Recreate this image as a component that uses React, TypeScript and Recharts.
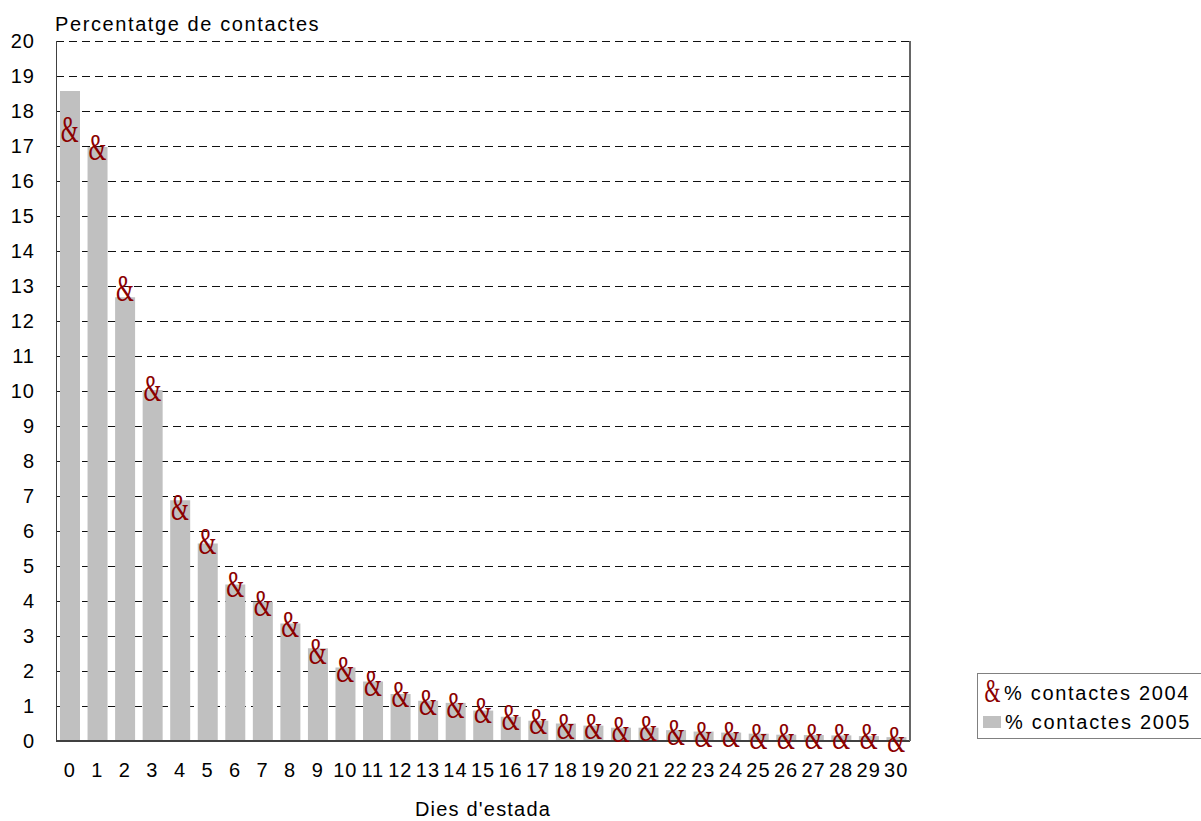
import React from 'react';
import { ComposedChart, Bar, Line, XAxis, YAxis, CartesianGrid, Legend } from 'recharts';

const dies = ['0','1','2','3','4','5','6','7','8','9','10','11','12','13','14','15','16','17','18','19','20','21','22','23','24','25','26','27','28','29','30'];
const contactes2005 = [18.57, 16.97, 12.68, 10.03, 6.88, 5.64, 4.47, 3.98, 3.36, 2.65, 2.1, 1.7, 1.34, 1.15, 1.09, 0.87, 0.69, 0.58, 0.5, 0.44, 0.38, 0.38, 0.31, 0.27, 0.24, 0.21, 0.18, 0.17, 0.16, 0.14, 0.11];
const contactes2004 = [17.46, 16.93, 12.9, 10.07, 6.65, 5.69, 4.46, 3.92, 3.31, 2.54, 2.02, 1.62, 1.32, 1.09, 1.0, 0.87, 0.65, 0.54, 0.41, 0.4, 0.32, 0.34, 0.24, 0.18, 0.18, 0.1, 0.1, 0.1, 0.1, 0.1, 0.02];
const yTicks = [0,1,2,3,4,5,6,7,8,9,10,11,12,13,14,15,16,17,18,19,20];

const seriesNames = { s2004: '% contactes 2004', s2005: '% contactes 2005' };
const titleText = 'Percentatge de contactes';
const xTitle = "Dies d'estada";

const data = dies.map((d, i) => ({ dia: d, c2005: contactes2005[i], c2004: contactes2004[i] }));

const FONT = '"Liberation Sans", Arial, sans-serif';
const MARK = '#8B0000';
const BAR = '#C0C0C0';

const Amp = (props: any) => {
  const { cx, cy, index } = props;
  if (cx == null || cy == null) return null;
  const sx = 0.62;
  return (
    <text
      key={`amp-${index}`}
      x={cx}
      y={cy + 12}
      textAnchor="middle"
      fontFamily='"Liberation Serif", "Times New Roman", serif'
      fontSize={37}
      fill={MARK}
      transform={`matrix(${sx} 0 0 1 ${cx * (1 - sx)} 0)`}
    >
      {'&'}
    </text>
  );
};

const LegendBox = () => (
  <div
    style={{
      border: '1px solid #808080',
      borderRight: 'none',
      width: 224,
      height: 66,
      boxSizing: 'border-box',
      fontFamily: FONT,
      fontSize: 20,
      letterSpacing: 1.7,
      color: '#000',
      position: 'relative',
    }}
  >
    <div style={{ position: 'absolute', left: 4, top: 6, height: 26, display: 'flex', alignItems: 'center', whiteSpace: 'nowrap' }}>
      <svg width={22} height={28} style={{ overflow: 'visible' }}>
        <text x={11} y={23} textAnchor="middle" fontFamily='"Liberation Serif", serif' fontSize={33} fill={MARK} transform="matrix(0.62 0 0 1 4.18 0)">{'&'}</text>
      </svg>
      <span>{seriesNames.s2004}</span>
    </div>
    <div style={{ position: 'absolute', left: 5, top: 35, height: 26, display: 'flex', alignItems: 'center', whiteSpace: 'nowrap' }}>
      <div style={{ width: 18, height: 12, background: BAR, marginRight: 4 }} />
      <span>{seriesNames.s2005}</span>
    </div>
  </div>
);

export default function App() {
  return (
    <div style={{ position: 'absolute', left: 0, top: 0, width: 1201, height: 821, fontFamily: FONT, background: '#fff', overflow: 'hidden' }}>
      <style>{`.recharts-cartesian-grid line { shape-rendering: crispEdges; } .recharts-cartesian-axis-line { shape-rendering: crispEdges; }`}</style>
      <ComposedChart
        width={1201}
        height={821}
        data={data}
        margin={{ top: 41, right: 290, bottom: 0, left: 0 }}
        barCategoryGap={4}
      >
        <CartesianGrid vertical={false} stroke="#111" strokeDasharray="8 5" />
        <XAxis
          dataKey="dia"
          interval={0}
          height={80}
          tickLine={false}
          tickSize={0}
          tickMargin={22}
          axisLine={{ stroke: '#404040', strokeWidth: 2 }}
          tick={{ fontSize: 20, fill: '#000', fontFamily: FONT, letterSpacing: 1 }}
          label={{ value: xTitle, position: 'insideBottom', offset: 5, fontSize: 20, fill: '#000', fontFamily: FONT, letterSpacing: 1.2 } as any}
        />
        <YAxis
          width={56}
          domain={[0, 20]}
          ticks={yTicks}
          interval={0}
          tickLine={false}
          tickSize={0}
          tickMargin={21}
          axisLine={{ stroke: '#404040' }}
          tick={{ fontSize: 20, fill: '#000', fontFamily: FONT, letterSpacing: 1 }}
          label={{
            content: (p: any) => {
              const vb = p.viewBox || { x: 0, y: 41, width: 56 };
              return (
                <text x={vb.x + vb.width - 1} y={vb.y - 10} fontSize={20} fill="#000" fontFamily={FONT} letterSpacing={1.6}>
                  {titleText}
                </text>
              );
            },
          } as any}
        />
        <YAxis
          yAxisId="right"
          orientation="right"
          width={1}
          domain={[0, 20]}
          allowDataOverflow
          tick={false}
          tickLine={false}
          axisLine={{ stroke: '#666', strokeWidth: 1.5 }}
        />
        <Bar dataKey="c2005" name={seriesNames.s2005} fill={BAR} isAnimationActive={false} />
        <Line
          dataKey="c2004"
          name={seriesNames.s2004}
          stroke="none"
          dot={Amp}
          activeDot={false}
          isAnimationActive={false}
        />
        <Line
          yAxisId="right"
          dataKey="c2005"
          stroke="none"
          dot={false}
          activeDot={false}
          legendType="none"
          isAnimationActive={false}
        />
        <Legend
          layout="vertical"
          align="center"
          verticalAlign="middle"
          content={() => <LegendBox />}
          wrapperStyle={{ position: 'absolute', left: 977, top: 673, width: 224, height: 66 }}
        />
      </ComposedChart>
    </div>
  );
}
